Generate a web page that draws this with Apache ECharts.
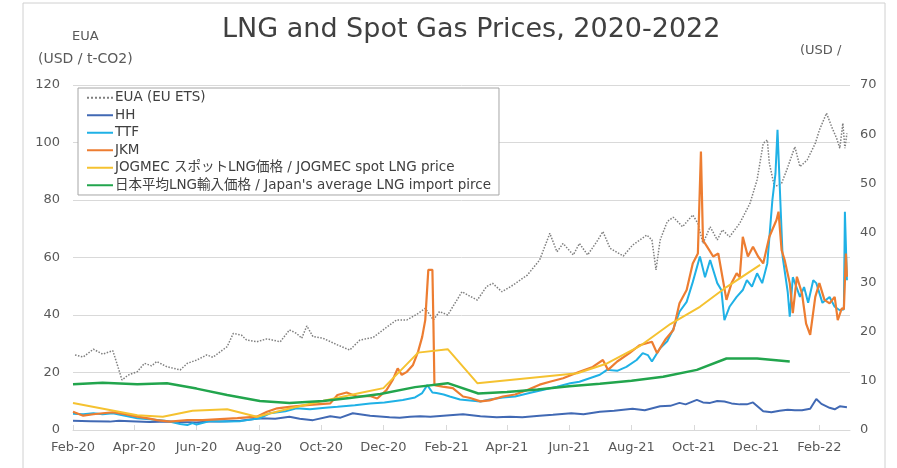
<!DOCTYPE html>
<html>
<head>
<meta charset="utf-8">
<script src="https://cdn.jsdelivr.net/npm/echarts@6/dist/echarts.min.js"></script>
<style>
  html, body { margin: 0; padding: 0; background: #fff; }
  #chart { width: 897px; height: 468px; }
</style>
</head>
<body>
<div id="chart"></div>
<script>
// values, x = days after 1 Feb 2020
const eua = [[2,26.1],[10,25.4],[20,28.1],[29,26.4],[39,27.6],[44,22],[48,17.4],[54,19.1],[63,20.3],[70,23.2],[77,22.3],[82,23.8],[92,22],[105,20.9],[112,23.2],[121,24.3],[131,26.1],[137,25.3],[151,29],[157,33.6],[165,33],[170,31.3],[180,30.7],[190,31.7],[203,30.7],[212,34.8],[219,33.6],[224,31.9],[229,36.2],[235,32.5],[245,31.9],[259,29.6],[271,27.8],[281,31.3],[294,32.2],[307,35.7],[317,38.3],[327,38.3],[337,40.3],[345,42.3],[353,38.3],[359,41.2],[367,40],[376,45.2],[381,48.1],[389,46.5],[396,45.2],[405,49.9],[411,51],[420,48.1],[431,50.4],[445,53.9],[457,59.1],[467,68.4],[474,62],[480,64.9],[490,60.9],[496,64.9],[504,60.9],[513,65.5],[519,69],[526,63.2],[539,60.5],[548,64.3],[562,67.8],[567,66.1],[571,55.7],[575,66],[582,72.5],[588,74],[597,70.7],[607,74.8],[612,71.9],[617,64.9],[624,70.7],[631,66.1],[636,69.6],[643,67.2],[653,71.9],[663,78.8],[670,87],[676,99.7],[680,100.9],[682,92.8],[687,84.6],[694,85.8],[699,90.4],[707,98.5],[712,91.6],[719,93.9],[727,99.7],[731,104.3],[738,110.2],[743,105.5],[748,101.4],[751,98],[754,106.7],[756,98],[758,103.2]];

const hh = [[0,1.9],[17,1.8],[36,1.7],[45,1.9],[56,1.8],[75,1.6],[95,1.7],[105,1.6],[121,1.5],[130,1.7],[144,1.7],[164,1.9],[183,2.4],[198,2.3],[212,2.7],[222,2.3],[235,2.0],[252,2.8],[262,2.5],[274,3.4],[291,2.9],[310,2.6],[320,2.5],[330,2.7],[340,2.8],[350,2.7],[369,3.0],[382,3.2],[399,2.8],[415,2.6],[428,2.7],[440,2.6],[457,2.9],[470,3.1],[488,3.4],[500,3.2],[516,3.7],[530,3.9],[548,4.3],[560,4.0],[575,4.8],[585,4.9],[594,5.5],[600,5.2],[611,6.1],[617,5.6],[624,5.5],[631,5.9],[638,5.8],[645,5.4],[653,5.2],[660,5.2],[666,5.6],[676,3.8],[684,3.6],[692,3.9],[700,4.1],[707,4.0],[714,4.0],[722,4.3],[728,6.3],[733,5.3],[741,4.5],[746,4.2],[751,4.8],[758,4.6]];

const ttf = [[0,3.3],[10,3.2],[20,3.4],[29,3.2],[39,3.4],[51,2.9],[63,2.4],[75,2.2],[90,1.9],[105,1.2],[112,1.0],[117,1.4],[121,1.1],[134,1.8],[149,1.7],[164,1.8],[183,2.4],[193,3.4],[208,3.8],[219,4.4],[232,4.2],[247,4.5],[259,4.7],[276,5.0],[291,5.4],[305,5.6],[323,6.1],[335,6.6],[342,7.5],[347,9.1],[352,7.6],[356,7.5],[363,7.2],[369,6.8],[379,6.2],[389,6.0],[399,5.8],[408,6.2],[421,6.6],[433,6.8],[447,7.5],[462,8.2],[474,8.8],[487,9.5],[496,9.8],[506,10.5],[516,11.2],[523,12.2],[533,12.0],[542,12.8],[552,14.2],[558,15.6],[563,15.2],[567,13.9],[575,16.6],[582,18.0],[588,20.5],[594,24.0],[601,26.0],[607,30.0],[614,35.2],[619,31],[624,34.5],[631,29.8],[635,28.4],[638,22.3],[643,25],[650,27],[656,28.4],[660,30.4],[665,29.1],[670,31.8],[675,29.8],[680,33.8],[685,46.7],[688,52],[690,60.9],[693,45.3],[695,35.2],[700,28],[702,23],[705,31],[712,27],[716,29],[720,25.8],[725,30.4],[728,29.8],[734,25.8],[741,27],[746,25],[751,24.3],[755,24.5],[756,44.3],[758,30.4]];

const jkm = [[0,3.7],[10,2.9],[20,3.2],[29,3.4],[39,3.6],[51,3.2],[63,2.7],[75,2.3],[82,2.0],[95,1.7],[112,2.0],[127,2.0],[144,2.2],[161,2.4],[180,2.7],[190,3.7],[200,4.4],[212,4.7],[232,5.1],[252,5.4],[259,7.1],[268,7.6],[278,6.8],[291,6.9],[298,6.4],[307,8.1],[313,10.1],[318,12.5],[322,11.2],[327,11.8],[333,13.2],[338,15.9],[342,18.9],[345,22.3],[348,32.5],[352,32.5],[353,21.6],[354,9.1],[362,8.8],[372,8.5],[382,6.8],[389,6.5],[399,5.8],[408,6.0],[421,6.8],[433,7.2],[445,8.1],[457,9.2],[467,9.8],[480,10.5],[496,11.8],[509,12.8],[519,14.2],[524,12.2],[533,13.9],[545,15.6],[555,17.2],[567,17.9],[572,15.6],[580,18.3],[588,20.3],[594,25.7],[601,28.4],[607,33.8],[612,35.8],[615,56.5],[617,38.5],[621,37.2],[627,35.2],[632,35.8],[636,31.1],[640,26.4],[645,29.8],[650,31.8],[653,31.0],[656,39.2],[661,35.2],[666,37.2],[671,35.2],[676,33.8],[682,39.2],[689,42.6],[691,44.3],[694,36.5],[697,34.5],[702,29.8],[705,23.7],[709,31.1],[714,27.7],[718,21.6],[722,19.3],[727,27],[731,29.8],[736,26.4],[741,25.7],[746,27],[749,22.3],[753,24.7],[755,24.5],[757,35.8],[758,31.1]];

const jogmec = [[0,5.5],[63,3.0],[88,2.7],[117,3.9],[151,4.2],[180,2.7],[215,4.5],[249,6.1],[281,7.5],[304,8.5],[338,15.7],[367,16.4],[396,9.5],[494,11.5],[523,13.5],[555,17],[585,21.5],[614,25],[640,29],[673,33.5]];

const japanAvg = [[0,9.3],[29,9.6],[63,9.3],[92,9.5],[121,8.4],[151,7.1],[183,5.9],[212,5.5],[245,5.9],[271,6.5],[301,7.3],[335,8.7],[367,9.5],[397,7.4],[425,7.7],[455,8.2],[486,8.9],[516,9.4],[547,10.0],[578,10.8],[611,12.2],[640,14.5],[670,14.5],[702,13.9]];

const tickLabels = ['Feb-20','Apr-20','Jun-20','Aug-20','Oct-20','Dec-20','Feb-21','Apr-21','Jun-21','Aug-21','Oct-21','Dec-21','Feb-22'];
const seriesNames = ['EUA (EU ETS)', 'HH', 'TTF', 'JKM', 'JOGMEC スポットLNG価格 / JOGMEC spot LNG price', "日本平均LNG輸入価格 / Japan's average LNG import pirce"];

function day(d) { return new Date(2020, 1, 1 + d).getTime(); }
function toData(arr) { return arr.map(p => [day(p[0]), p[1]]); }
const tickDates = tickLabels.map((_, i) => new Date(2020, 1 + 2 * i, 1).getTime());

const FONT = "'DejaVu Sans', 'Noto Sans CJK JP', sans-serif";
const LBL = { color: '#595959', fontSize: 13, fontFamily: FONT };

const chart = echarts.init(document.getElementById('chart'));

function line(name, data, color, width, axis, type) {
  return {
    name: name, type: 'line', yAxisIndex: axis, data: toData(data),
    symbol: 'none', showSymbol: false,
    lineStyle: { color: color, width: width, type: type || 'solid' },
    itemStyle: { color: color }
  };
}

chart.setOption({
  animation: false,
  textStyle: { fontFamily: FONT },
  title: {
    text: 'LNG and Spot Gas Prices, 2020-2022',
    left: 217, top: 11,
    textStyle: { fontSize: 27, fontWeight: 'normal', color: '#404040', fontFamily: FONT }
  },
  graphic: [
    { type: 'rect', shape: { x: 23, y: 3, width: 862, height: 475 }, style: { fill: 'none', stroke: '#d0d0d0', lineWidth: 1 }, z: -1 },
    { type: 'text', x: 72, y: 30, style: { text: 'EUA', fill: '#595959', font: '13px ' + FONT } },
    { type: 'text', x: 38, y: 52, style: { text: '(USD / t-CO2)', fill: '#595959', font: '14px ' + FONT } },
    { type: 'text', x: 800, y: 44, style: { text: '(USD /', fill: '#595959', font: '13px ' + FONT } }
  ],
  legend: {
    data: seriesNames,
    orient: 'vertical',
    left: 78, top: 88,
    padding: [3, 8, 3, 8],
    itemGap: 4,
    itemWidth: 26, itemHeight: 14,
    backgroundColor: '#fff',
    borderColor: '#a6a6a6', borderWidth: 1,
    itemStyle: { opacity: 0 },
    textStyle: { color: '#404040', fontSize: 13.5, fontFamily: FONT, padding: [0, 0, 0, -3] }
  },
  grid: { left: 73, right: 47, top: 85, bottom: 38 },
  xAxis: {
    type: 'value',
    min: day(0), max: day(761),
    axisLine: { lineStyle: { color: '#d9d9d9' } },
    axisTick: { show: true, inside: true, length: 5, lineStyle: { color: '#d9d9d9' }, customValues: tickDates },
    splitLine: { show: false },
    axisLabel: Object.assign({}, LBL, {
      customValues: tickDates,
      margin: 11,
      formatter: function (v) {
        const i = tickDates.indexOf(v);
        return i >= 0 ? tickLabels[i] : '';
      }
    })
  },
  yAxis: [
    {
      type: 'value', min: 0, max: 120, interval: 20,
      axisLine: { show: false }, axisTick: { show: false },
      splitLine: { lineStyle: { color: '#d9d9d9' } },
      axisLabel: Object.assign({}, LBL, { margin: 13 })
    },
    {
      type: 'value', min: 0, max: 70, interval: 10,
      axisLine: { show: false }, axisTick: { show: false },
      splitLine: { show: false },
      axisLabel: Object.assign({}, LBL, { margin: 10 })
    }
  ],
  series: [
    line(seriesNames[0], eua, '#7f7f7f', 1.5, 0, 'dotted'),
    line(seriesNames[1], hh, '#4169b4', 2, 1),
    line(seriesNames[2], ttf, '#1fb1e6', 2, 1),
    line(seriesNames[3], jkm, '#ed7d31', 2.2, 1),
    line(seriesNames[4], jogmec, '#f5c230', 2, 1),
    line(seriesNames[5], japanAvg, '#22a54d', 2.5, 1)
  ]
});
</script>
</body>
</html>
